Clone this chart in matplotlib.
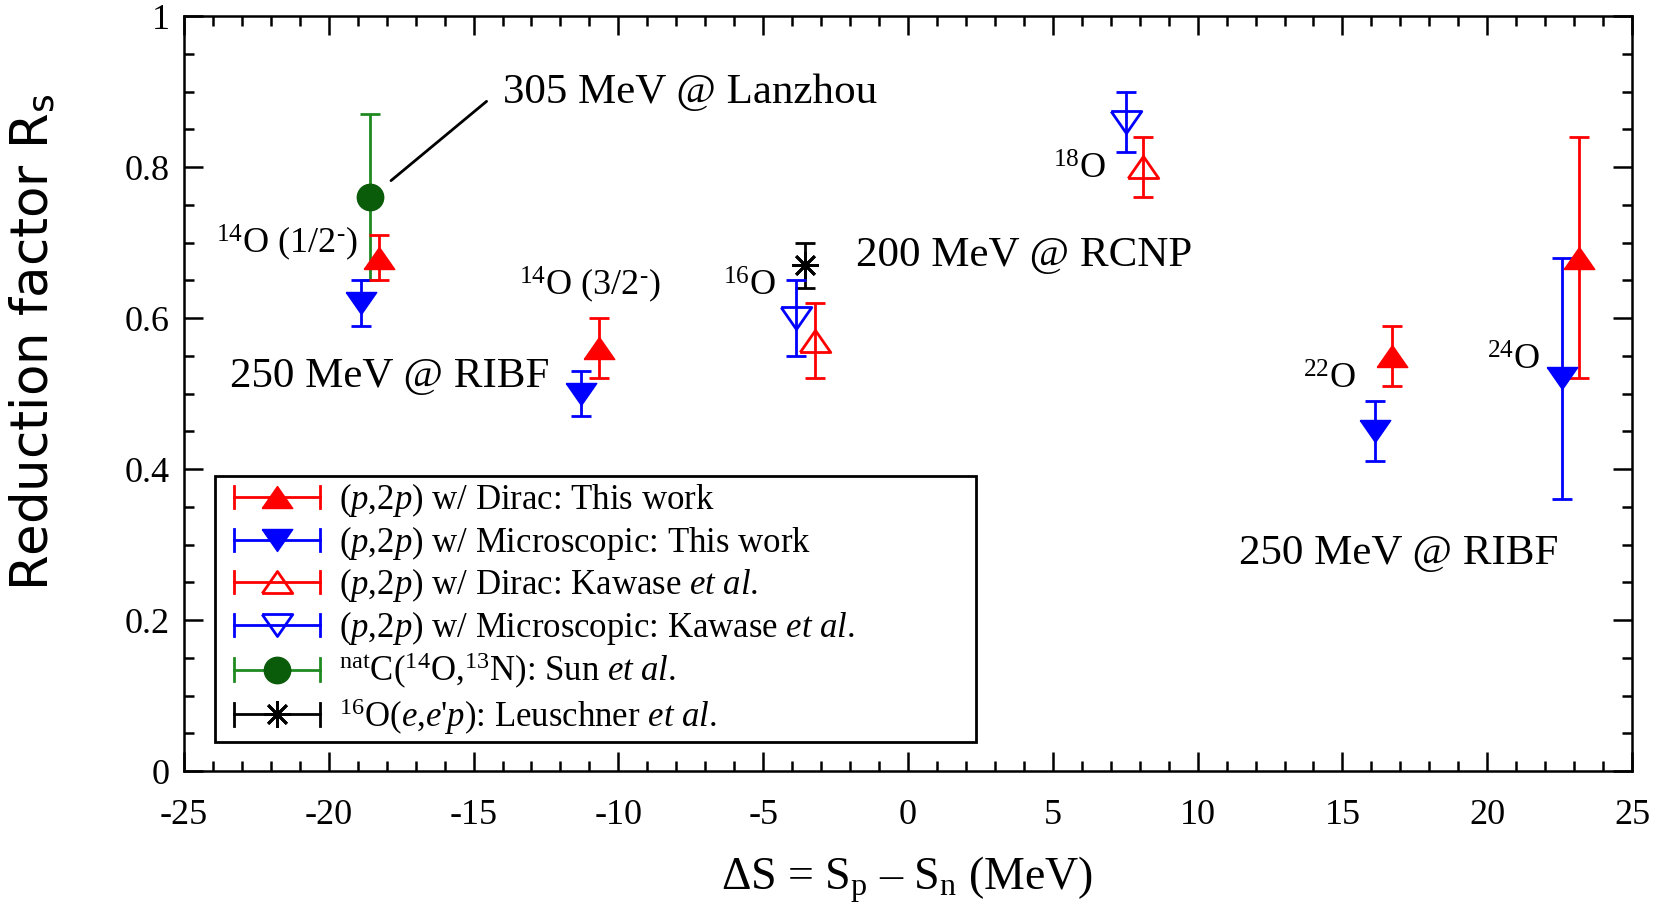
import numpy as np
import matplotlib
matplotlib.use('Agg')
import matplotlib.pyplot as plt
from matplotlib.lines import Line2D
from matplotlib.legend_handler import HandlerBase
from matplotlib.ticker import MultipleLocator

plt.rcParams['font.family'] = ['Liberation Serif', 'DejaVu Serif']
plt.rcParams['mathtext.fontset'] = 'custom'
plt.rcParams['mathtext.rm'] = 'Liberation Serif'
plt.rcParams['mathtext.it'] = 'Liberation Serif:italic'
plt.rcParams['axes.unicode_minus'] = False

# (p,2p) w/ Dirac: this work
dirac_x = [-18.25, -10.66, 16.71, 23.17]
dirac_y = [0.68, 0.56, 0.55, 0.68]
dirac_e = [0.03, 0.04, 0.04, 0.16]
# (p,2p) w/ Microscopic: this work
micro_x = [-18.9, -11.28, 16.12, 22.58]
micro_y = [0.62, 0.50, 0.45, 0.52]
micro_e = [0.03, 0.03, 0.04, 0.16]
# Kawase et al.
kdirac_x = [-3.21, 8.13]
kdirac_y = [0.57, 0.80]
kdirac_e = [0.05, 0.04]
kmicro_x = [-3.87, 7.54]
kmicro_y = [0.60, 0.86]
kmicro_e = [0.05, 0.04]
# Sun et al.
sun_x = [-18.58]
sun_y = [0.76]
sun_e = [0.11]
# Leuschner et al.
leu_x = [-3.54]
leu_y = [0.67]
leu_e = [0.03]

labels = [r'($\mathit{p}$,$\mathit{2p}$) w/ Dirac: This work',
          r'($\mathit{p}$,$\mathit{2p}$) w/ Microscopic: This work',
          r'($\mathit{p}$,$\mathit{2p}$) w/ Dirac: Kawase $\mathit{et\ al.}$',
          r'($\mathit{p}$,$\mathit{2p}$) w/ Microscopic: Kawase $\mathit{et\ al.}$',
          r'$^{\mathrm{nat}}$C($^{14}$O,$^{13}$N): Sun $\mathit{et\ al.}$',
          r"$^{16}$O($\mathit{e}$,$\mathit{e}$'$\mathit{p}$): Leuschner $\mathit{et\ al.}$"]

RED = '#ff0000'
BLUE = '#0000ff'
GREEN_E = '#1f8a1f'
GREEN_M = '#0a5c0a'

tri_up = [(-1, -0.72), (1, -0.72), (0, 0.72), (-1, -0.72)]
tri_dn = [(-1, 0.72), (1, 0.72), (0, -0.72), (-1, 0.72)]
star = (8, 2, 0)


class ErrHandler(HandlerBase):
    # horizontal bar with end caps and the marker in the middle
    def create_artists(self, legend, orig, xdescent, ydescent, width, height, fontsize, trans):
        y0 = height / 2 - ydescent
        x0, x1 = -xdescent + 0.4 * fontsize, width - xdescent
        c = orig.get_color()
        cap = 0.32 * fontsize
        bar = Line2D([x0, x1], [y0, y0], color=c, lw=2)
        caps = Line2D([x0, x0, np.nan, x1, x1], [y0 - cap, y0 + cap, np.nan, y0 - cap, y0 + cap], color=c, lw=2)
        mk = Line2D([(x0 + x1) / 2], [y0], linestyle='none', marker=orig.get_marker(),
                    ms=orig.get_markersize(), mfc=orig.get_markerfacecolor(),
                    mec=orig.get_markeredgecolor(), mew=orig.get_markeredgewidth())
        for a in (bar, caps, mk):
            a.set_transform(trans)
        return [bar, caps, mk]


fig = plt.figure(figsize=(16.63, 9.10), dpi=100)
ax = fig.add_axes([0.1106, 0.1527, 0.8708, 0.8297])

eb = dict(linestyle='none', elinewidth=2, capsize=7, capthick=2)
ax.errorbar(sun_x, sun_y, yerr=sun_e, marker='o', ms=19, color=GREEN_M, ecolor=GREEN_E, **eb)
ax.errorbar(leu_x, leu_y, yerr=leu_e, marker=star, ms=19, mew=2, color='black', **eb)
ax.errorbar(kmicro_x, kmicro_y, yerr=kmicro_e, marker=tri_dn, ms=22, mfc='none', mec=BLUE, mew=2, color=BLUE, **eb)
ax.errorbar(kdirac_x, kdirac_y, yerr=kdirac_e, marker=tri_up, ms=22, mfc='none', mec=RED, mew=2, color=RED, **eb)
ax.errorbar(micro_x, micro_y, yerr=micro_e, marker=tri_dn, ms=22, color=BLUE, **eb)
ax.errorbar(dirac_x, dirac_y, yerr=dirac_e, marker=tri_up, ms=22, color=RED, **eb)

handles = [Line2D([], [], color=RED, marker=tri_up, ms=22, mfc=RED, mec=RED),
           Line2D([], [], color=BLUE, marker=tri_dn, ms=22, mfc=BLUE, mec=BLUE),
           Line2D([], [], color=RED, marker=tri_up, ms=22, mfc='none', mec=RED, mew=2),
           Line2D([], [], color=BLUE, marker=tri_dn, ms=22, mfc='none', mec=BLUE, mew=2),
           Line2D([], [], color=GREEN_E, marker='o', ms=19, mfc=GREEN_M, mec=GREEN_M),
           Line2D([], [], color='black', marker=star, ms=19, mec='black', mew=2)]
leg = ax.legend(handles, labels, handler_map={Line2D: ErrHandler()}, loc='upper left',
                bbox_to_anchor=(0.0214, 0.0, 0.5256, 0.3907), mode='expand', borderaxespad=0,
                fontsize=25, frameon=True, fancybox=False, edgecolor='black', framealpha=1,
                handlelength=2.87, handletextpad=0.55, labelspacing=0.13, borderpad=0.15)
leg.get_frame().set_linewidth(2)

# annotations
big = 31
small = 26
ax.annotate('', xy=(-17.85, 0.782), xytext=(-14.55, 0.887),
            arrowprops=dict(arrowstyle='-', lw=2, color='black', shrinkA=0, shrinkB=0))
ax.text(-14.0, 0.885, '305 MeV @ Lanzhou', fontsize=big, va='baseline')
ax.text(-23.9, 0.686, r'$^{14}$O (1/2$^{‐}$)', fontsize=small, va='baseline')
ax.text(-23.42, 0.508, '250 MeV @ RIBF', fontsize=big, va='baseline')
ax.text(-13.44, 0.630, r'$^{14}$O (3/2$^{‐}$)', fontsize=small, va='baseline')
ax.text(-6.4, 0.630, r'$^{16}$O', fontsize=small, va='baseline')
ax.text(-1.78, 0.669, '200 MeV @ RCNP', fontsize=big, va='baseline')
ax.text(5.0, 0.785, r'$^{18}$O', fontsize=small, va='baseline')
ax.text(13.63, 0.506, r'$^{22}$O', fontsize=small, va='baseline')
ax.text(20.0, 0.532, r'$^{24}$O', fontsize=small, va='baseline')
ax.text(11.43, 0.274, '250 MeV @ RIBF', fontsize=big, va='baseline')

ax.set_xlim(-25, 25)
ax.set_ylim(0, 1)
ax.xaxis.set_major_locator(MultipleLocator(5))
ax.xaxis.set_minor_locator(MultipleLocator(1))
ax.yaxis.set_major_locator(MultipleLocator(0.2))
ax.yaxis.set_minor_locator(MultipleLocator(0.05))
ax.set_yticks([0, 0.2, 0.4, 0.6, 0.8, 1.0], ['0', '0.2', '0.4', '0.6', '0.8', '1'])
ax.tick_params(which='both', direction='in', top=True, right=True, width=1.8, labelsize=26)
ax.tick_params(which='major', length=14)
ax.tick_params(which='minor', length=7)
ax.tick_params(axis='x', pad=20)
ax.tick_params(axis='y', pad=10)
for s in ax.spines.values():
    s.set_linewidth(1.8)

fig.text(35 / 1663, 1 - 342 / 910, r'Reduction factor R$_\mathregular{s}$', rotation=90,
         ha='center', va='center', fontsize=37, family='DejaVu Sans')
fig.text(907 / 1663, 1 - 880 / 910, r'ΔS = S$_\mathrm{p}$ – S$_\mathrm{n}$ (MeV)',
         ha='center', va='center', fontsize=33)

fig.savefig('out.png', dpi=100)
